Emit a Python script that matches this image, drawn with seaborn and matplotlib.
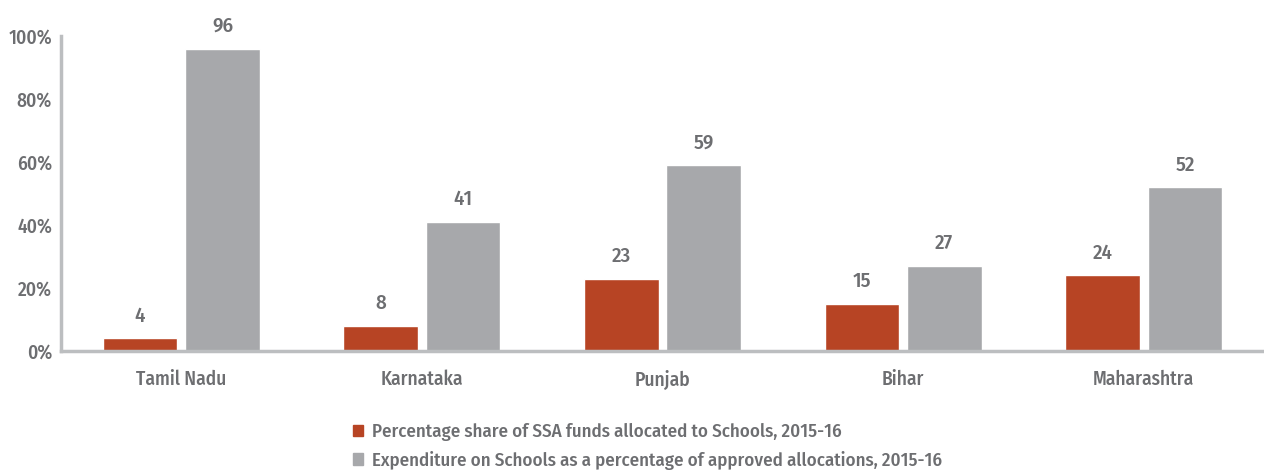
import numpy as np
import pandas as pd
import matplotlib
matplotlib.use('Agg')
import matplotlib.pyplot as plt
import seaborn as sns

states = ['Tamil Nadu', 'Karnataka', 'Punjab', 'Bihar', 'Maharashtra']
share_allocated = [4, 8, 23, 15, 24]
expenditure_pct = [96, 41, 59, 27, 52]
series_names = ['Percentage share of SSA funds allocated to Schools, 2015-16',
                'Expenditure on Schools as a percentage of approved allocations, 2015-16']
y_ticks = [0, 20, 40, 60, 80, 100]

RED = '#b74424'
GREY = '#a7a8ab'
TEXT = '#6d6e71'
SPINE = '#bcbec0'

sns.set_style('white')
plt.rcParams['font.family'] = ['Fira Sans Condensed', 'DejaVu Sans']
plt.rcParams['font.weight'] = 'medium'

df = pd.DataFrame({
    'state': states * 2,
    'value': share_allocated + expenditure_pct,
    'series': [series_names[0]] * len(states) + [series_names[1]] * len(states),
})

fig = plt.figure(figsize=(12.64, 4.73), dpi=100)
ax = fig.add_axes([61 / 1264, 1 - 351 / 473, 1 - 61 / 1264, 315 / 473])

sns.barplot(data=df, x='state', y='value', hue='series', order=states,
            hue_order=series_names, palette=[RED, GREY], width=0.686, gap=0.096,
            saturation=1, ax=ax, legend=False)

for cont in ax.containers:
    ax.bar_label(cont, fmt='%d', padding=9, color=TEXT, fontsize=15)

ax.set_xlim(-0.5, 4.5)
ax.set_ylim(0, 100)
ax.set_yticks(y_ticks)
ax.set_yticklabels([f'{t}%' for t in y_ticks])
ax.set_xlabel('')
ax.set_ylabel('')
ax.tick_params(axis='both', length=0, colors=TEXT)
ax.tick_params(axis='x', pad=13.5, labelsize=14)
ax.tick_params(axis='y', pad=6.5, labelsize=14)

for side in ['top', 'right']:
    ax.spines[side].set_visible(False)
for side in ['left', 'bottom']:
    ax.spines[side].set_color(SPINE)
    ax.spines[side].set_linewidth(2.5)

handles = [plt.Rectangle((0, 0), 1, 1, color=c) for c in [RED, GREY]]
fig.legend(handles, series_names, loc='upper left', bbox_to_anchor=(353 / 1264, 1 - 423 / 473),
           frameon=False, fontsize=13.6, labelcolor=TEXT, handlelength=0.55, handleheight=0.55,
           handletextpad=0.45, labelspacing=0.52, borderpad=0, borderaxespad=0)

fig.savefig('out.png', dpi=100)
